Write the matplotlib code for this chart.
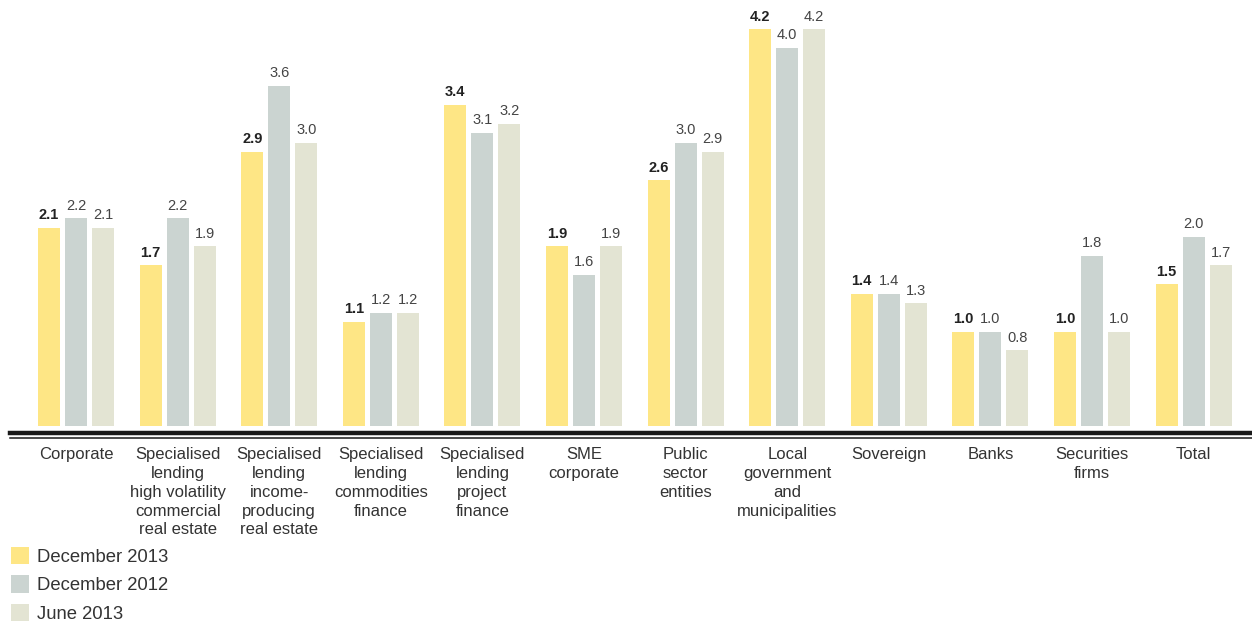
import numpy as np
import matplotlib
matplotlib.use("Agg")
import matplotlib.pyplot as plt

plt.rcParams['font.family'] = ['Liberation Sans', 'DejaVu Sans']

categories = ['Corporate',
              'Specialised\nlending\nhigh volatility\ncommercial\nreal estate',
              'Specialised\nlending\nincome-\nproducing\nreal estate',
              'Specialised\nlending\ncommodities\nfinance',
              'Specialised\nlending\nproject\nfinance',
              'SME\ncorporate',
              'Public\nsector\nentities',
              'Local\ngovernment\nand\nmunicipalities',
              'Sovereign', 'Banks', 'Securities\nfirms', 'Total']
dec_2013 = [2.1, 1.7, 2.9, 1.1, 3.4, 1.9, 2.6, 4.2, 1.4, 1.0, 1.0, 1.5]
dec_2012 = [2.2, 2.2, 3.6, 1.2, 3.1, 1.6, 3.0, 4.0, 1.4, 1.0, 1.8, 2.0]
jun_2013 = [2.1, 1.9, 3.0, 1.2, 3.2, 1.9, 2.9, 4.2, 1.3, 0.8, 1.0, 1.7]
series_names = ['December 2013', 'December 2012', 'June 2013']
colors = ['#fee685', '#cbd4d1', '#e3e4d3']

W, H = 1252, 624
fig = plt.figure(figsize=(W / 100, H / 100), dpi=100)
ax = fig.add_axes([10 / W, 1 - 426 / H, (W - 10) / W, 426 / H])

x = np.arange(len(categories))
gp = 101.6  # pixels per group
step = 27 / gp
width = 22 / gp
handles = []
for i, (vals, name, col) in enumerate(zip([dec_2013, dec_2012, jun_2013], series_names, colors)):
    pos = x + (i - 1) * step
    b = ax.bar(pos, vals, width, color=col, label=name)
    handles.append(b)
    for p, v in zip(pos, vals):
        ax.annotate(f'{v:.1f}', (p, v), xytext=(0, 4), textcoords='offset points',
                    ha='center', va='bottom', fontsize=10.5,
                    fontweight='bold' if i == 0 else 'normal',
                    color='#222222' if i == 0 else '#444444')

ppu = 94.5  # pixels per unit
ax.set_xlim((10 - 76) / gp, (1252 - 76) / gp)
ax.set_ylim(0, 426 / ppu)
ax.axis('off')

ax.axhline(-6.5 / ppu, color='#1a1a1a', lw=3.2, clip_on=False)
ax.axhline(-12 / ppu, color='#1a1a1a', lw=1.1, clip_on=False)

for xi, cat in zip(x, categories):
    ax.text(xi, -21 / ppu, cat, ha='center', va='top', fontsize=12,
            color='#333333', linespacing=1.32, clip_on=False)

fig.legend(handles=handles, labels=series_names, loc='upper left',
           bbox_to_anchor=(11 / W, 1 - 547 / H), frameon=False, fontsize=13.3,
           handlelength=1.0, handleheight=1.05, handletextpad=0.4,
           labelspacing=0.52, borderaxespad=0, borderpad=0, labelcolor='#333333')

fig.savefig('out.png', dpi=100)
